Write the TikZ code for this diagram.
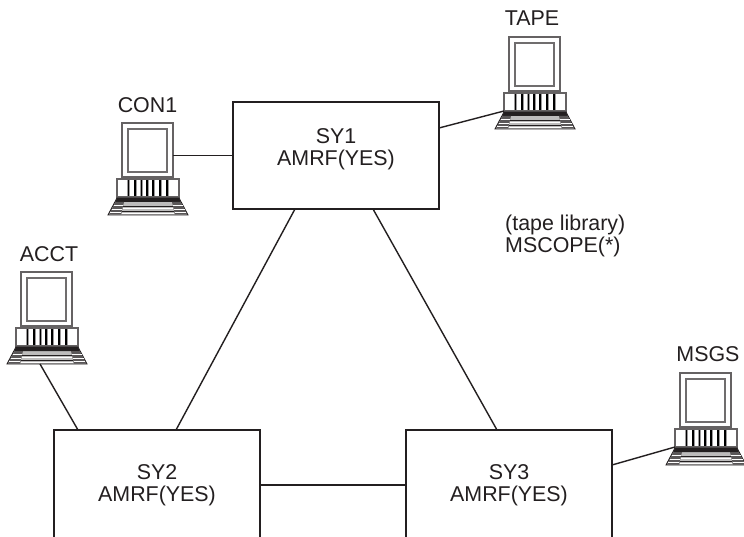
\documentclass[tikz,border=0pt]{standalone}
\usepackage{fontspec}
\setmainfont{Liberation Sans}
\usetikzlibrary{calc}
\definecolor{ink}{HTML}{231F20}
\tikzset{
  x=1pt,y=-1pt,
  system/.style={draw=ink,line width=1.4pt,minimum width=206pt,outer sep=0pt,inner sep=0pt,align=center,text=ink,font=\fontsize{21.4}{21.5}\selectfont},
  tag/.style={inner sep=0pt,text=ink,font=\fontsize{21.4}{21.5}\selectfont},
  link/.style={draw=ink,line width=1.4pt},
  monitor/.style={draw=ink!70,line width=1.4pt,fill=white,minimum width=51pt,minimum height=54pt,outer sep=0pt,inner sep=0pt},
  strip/.style={draw=ink!70,line width=1.4pt,fill=white,minimum width=62pt,minimum height=18pt,outer sep=0pt,inner sep=0pt},
  pics/computer/.style={code={
    \node[monitor,anchor=north west] (-mon) at (0,0) {};
    \draw[draw=ink!65,line width=1.4pt] (6,6) rectangle (45,49);
    \node[strip,anchor=north west] (-kb) at (-5,56) {};
    \foreach \k in {6.5,13,19.5,25,31,38,45}{
      \draw[draw=ink!45,line width=3pt] (\k,57) -- (\k,73);
      \draw[draw=black,line width=1.5pt] (\k,57) -- (\k,73);
    }
    \draw[draw=ink,line width=.9pt,fill=ink!30] (-5,75) -- (57,75) -- (66,92) -- (-14,92) -- cycle;
    \fill[ink] (-5,75) -- (57,75) -- (58.5,79) -- (-6.5,79) -- cycle;
    \fill[ink!75] (-6.5,79) -- (2,79) -- (-1,91.5) -- (-13,91.5) -- cycle;
    \fill[ink!75] (50,79) -- (58.5,79) -- (65.5,91.5) -- (53,91.5) -- cycle;
    \draw[draw=white,line width=.6pt] (-8.5,82) -- (1,82) (-10.5,86) -- (0,86) (-12,89.5) -- (-1,89.5)
      (51,82) -- (60.5,82) (52,86) -- (62.5,86) (53,89.5) -- (64,89.5);
    \draw[draw=ink,line width=.8pt] (1,83.5) -- (51,83.5) (0,88) -- (52,88);
    \draw[draw=white,line width=.7pt] (1,85.7) -- (51,85.7) (0,90) -- (52,90);
  }}
}
\begin{document}
\begin{tikzpicture}
\useasboundingbox (0,0) rectangle (744,537);
\clip (0,0) rectangle (744,537);
\fill[white] (0,0) rectangle (744,537);

\node[system,minimum height=107pt,anchor=north west] (sy1) at (233,102) {\\[-19.5pt]SY1\\AMRF(YES)};
\node[system,minimum height=110pt,anchor=north west] (sy2) at (54,430) {SY2\\AMRF(YES)};
\node[system,minimum height=110pt,anchor=north west] (sy3) at (406,430) {SY3\\AMRF(YES)};

\pic (con) at (122,123) {computer};
\pic (tape) at (509,37) {computer};
\pic (acct) at (21,272) {computer};
\pic (msgs) at (680,373) {computer};

\node[tag] (conlabel) at (147.5,105) {CON1};
\node[tag] (tapelabel) at (532,18) {TAPE};
\node[tag] (acctlabel) at (49,254) {ACCT};
\node[tag] (msgslabel) at (708,354) {MSGS};
\node[tag,align=left,anchor=west] (note) at (505,236) {(tape library)\\MSCOPE(*)};

\draw[link] (con-mon.east |- sy1.west) -- (sy1.west);
\draw[link] ($(sy1.north east)+(0,26)$) -- (tape-kb.south west);
\draw[link] ($(acct-mon.south west)+(19,38)$) -- ($(sy2.north west)+(24,0)$);
\draw[link] ($(sy3.north east)+(0,35)$) -- (msgs-kb.south west);
\draw[link] ($(sy1.south west)+(62,0)$) -- ($(sy2.north west)+(122,0)$);
\draw[link] ($(sy1.south west)+(140,0)$) -- ($(sy3.north west)+(91,0)$);
\draw[link] (sy2.east) -- (sy3.west);
\end{tikzpicture}
\end{document}
